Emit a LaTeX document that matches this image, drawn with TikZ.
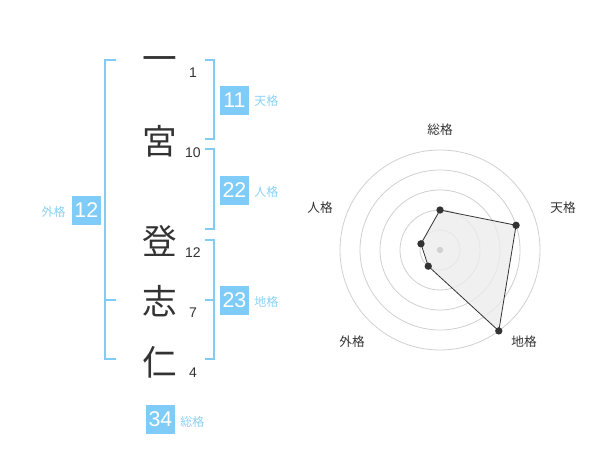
\documentclass[tikz,border=0pt]{standalone}
\usepackage{fontspec}
\setmainfont{Liberation Sans}
\newfontfamily\cjk{Noto Sans CJK JP}
\usetikzlibrary{calc}
\definecolor{bline}{HTML}{82CBF5}
\definecolor{bbox}{HTML}{80CCF8}
\definecolor{blab}{HTML}{8CD0F5}
\definecolor{ink}{HTML}{333333}
\definecolor{ring}{HTML}{D0D0D0}
\begin{document}
\begin{tikzpicture}[x=0.75pt,y=-0.75pt,
  kanji/.style={font=\cjk\fontsize{26}{26}\selectfont,text=ink,inner sep=0pt},
  stroke/.style={font=\fontsize{10.5}{10.5}\selectfont,text=ink,inner sep=0pt},
  numbox/.style={fill=bbox,text=white,font=\fontsize{16}{16}\selectfont,minimum width=21.75pt,minimum height=21.75pt,inner sep=0pt},
  kaku/.style={font=\cjk\fontsize{9}{9}\selectfont,text=blab,inner sep=0pt},
  rlab/.style={font=\cjk\fontsize{9.5}{9.5}\selectfont,text=ink,inner sep=0pt},
  brk/.style={draw=bline,line width=1.5pt},
  dot/.style={circle,fill=ink,inner sep=0pt,minimum size=5.5pt}]
\useasboundingbox (0,0) rectangle (600,470);
% characters
\node[kanji] (c1) at (160,64) {一};
\node[kanji] (c2) at (160,141) {宮};
\node[kanji] (c3) at (160,241) {登};
\node[kanji] (c4) at (160,301) {志};
\node[kanji] (c5) at (160,362) {仁};
% stroke counts
\node[stroke] (n1) at (193,73) {1};
\node[stroke] (n2) at (193,153) {10};
\node[stroke] (n3) at (193,253) {12};
\node[stroke] (n4) at (193,313) {7};
\node[stroke] (n5) at (193,373) {4};
% brackets right
\draw[brk] (205,60) -- (214.3,60) -- (214.3,139.3) -- (205,139.3);
\draw[brk] (205,149.3) -- (214.3,149.3) -- (214.3,229.3) -- (205,229.3);
\draw[brk] (205,240) -- (214.3,240) -- (214.3,359.3) -- (205,359.3);
\draw[brk] (205,300) -- (214.3,300);
% bracket left
\draw[brk] (116,60) -- (105,60) -- (105,359.3) -- (116,359.3);
\draw[brk] (105,300) -- (116,300);
% boxes
\node[numbox] (b1) at (234.5,100.5) {11};
\node[kaku,anchor=west] (l1) at (254,101) {天格};
\node[numbox] (b2) at (234.5,190.5) {22};
\node[kaku,anchor=west] (l2) at (254,192) {人格};
\node[numbox] (b3) at (234.5,300.5) {23};
\node[kaku,anchor=west] (l3) at (254,302) {地格};
\node[numbox] (b4) at (86.3,210.5) {12};
\node[kaku,anchor=east] (l4) at (66,212) {外格};
\node[numbox] (b5) at (160.5,419) {34};
\node[kaku,anchor=west] (l5) at (180,422) {総格};
% radar
\coordinate (O) at (440,250);
\foreach \r in {20,40,60,80,100}
  \draw[ring,line width=0.6pt] (O) circle[radius=\r];
\coordinate (pS) at ($(O)+(0,-40)$);
\coordinate (pT) at ($(O)+({80*cos(18)},{-80*sin(18)})$);
\coordinate (pC) at ($(O)+({100*cos(54)},{100*sin(54)})$);
\coordinate (pG) at ($(O)+({-20*cos(54)},{20*sin(54)})$);
\coordinate (pJ) at ($(O)+({-20*cos(18)},{-20*sin(18)})$);
\filldraw[fill=gray!15,fill opacity=0.8,draw=ink,line width=0.6pt] (pS) -- (pT) -- (pC) -- (pG) -- (pJ) -- cycle;
\fill[ring] (O) circle[radius=3.2];
\foreach \p in {pS,pT,pC,pG,pJ} \node[dot] at (\p) {};
\node[rlab] (rS) at (440,130) {総格};
\node[rlab] (rT) at (563,208) {天格};
\node[rlab] (rC) at (524,342) {地格};
\node[rlab] (rG) at (352,342) {外格};
\node[rlab] (rJ) at (320,208) {人格};
\end{tikzpicture}
\end{document}
